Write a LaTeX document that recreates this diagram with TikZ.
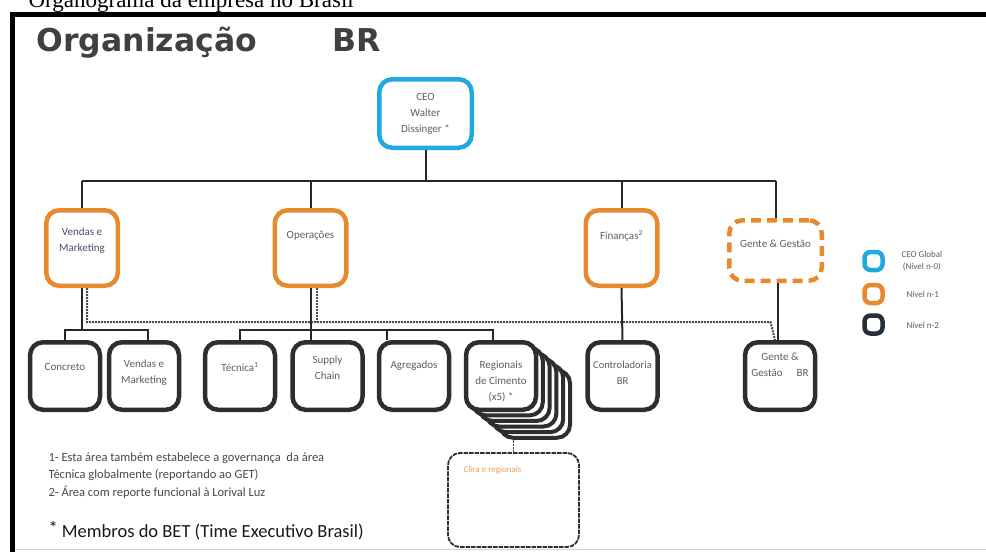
\documentclass[tikz,border=0pt]{standalone}
\usepackage{fontspec}
\setmainfont{Carlito}
\newfontfamily\titulofonte{DejaVu Sans}
\newfontfamily\legendafonte{Liberation Serif}
\usepackage{tikz}
\definecolor{orgCiano}{HTML}{22A9DF}
\definecolor{orgLaranja}{HTML}{E8892E}
\definecolor{orgEscuro}{HTML}{2E2E2E}
\definecolor{orgTexto}{HTML}{5E5E5E}
\definecolor{orgAzulTexto}{HTML}{46506A}
\definecolor{orgLegEscuro}{HTML}{27303A}

\begin{document}
\begin{tikzpicture}[x=1pt, y=-1pt,
    caixa/.style={rounded corners=13pt, line width=4.5pt, inner sep=0pt, fill=white},
    nivelzero/.style={caixa, draw=orgCiano, minimum width=92.5pt, minimum height=68.5pt},
    nivelum/.style={caixa, draw=orgLaranja, minimum width=71.5pt, minimum height=75.5pt},
    niveldois/.style={caixa, draw=orgEscuro, minimum width=70pt, minimum height=67.5pt},
    rotulo/.style={font=\fontsize{11}{16}\selectfont, text=orgTexto, align=center},
    conector/.style={line width=2pt, black!85},
    pontilhado/.style={line width=2pt, densely dotted, black!70},
    quadrado/.style={rounded corners=6pt, line width=4.5pt, minimum size=18pt, inner sep=0pt},
    nota/.style={anchor=base west, font=\fontsize{12.5}{14}\selectfont, text=black!72}]
    \useasboundingbox (0,0) rectangle (986,552);
    \clip (0,0) rectangle (986,552);
    \node[anchor=base west, font=\legendafonte\fontsize{23}{23}\selectfont] (legtopo) at (25,7) {Organograma da empresa no Brasil};
    \draw[line width=5pt] (986,14.5) -- (12.5,14.5) -- (12.5,552);
    \draw[gray!35, line width=0.8pt] (15,549) -- (986,549);
    \node[anchor=base west, font=\titulofonte\bfseries\fontsize{31.5}{32}\selectfont, text=black!75] (titulo) at (33,51) {Organização};
    \node[anchor=base west, font=\titulofonte\bfseries\fontsize{31.5}{32}\selectfont, text=black!75] (titulobr) at (329,51) {BR};

    \coordinate (barra) at (0,181);
    \coordinate (barrab) at (0,330);
    \coordinate (barrap) at (0,322);

    \node[nivelzero] (ceo) at (425.5,113.5) {};
    \node[rotulo] (ceot) at (ceo.center) {CEO\\Walter\\Dissinger *};

    \node[nivelum] (vendas) at (82,248) {};
    \node[rotulo, text=orgAzulTexto] (vendast) at ([yshift=7pt]vendas.center) {Vendas e\\Marketing};
    \node[nivelum] (operacoes) at (310.5,248) {};
    \node[rotulo] (operacoest) at ([yshift=12pt]operacoes.center) {Operações};
    \node[nivelum] (financas) at (621.5,248) {};
    \node[rotulo] (financast) at ([yshift=12pt]financas.center) {Finanças\textsuperscript{2}};
    \node[caixa, draw=orgLaranja, dash pattern=on 10pt off 6pt, minimum width=92.5pt, minimum height=60.5pt] (gente) at (775.5,250.5) {};
    \node[rotulo] (gentet) at ([yshift=7pt]gente.center) {Gente \& Gestão};

    \draw[conector] (ceo.south) -- (ceo.south |- barra);
    \draw[conector] (vendas.north |- barra) -- (gente.north |- barra);
    \draw[conector] (vendas.north) -- (vendas.north |- barra);
    \draw[conector] (operacoes.north) -- (operacoes.north |- barra);
    \draw[conector] (financas.north) -- (financas.north |- barra);
    \draw[conector] (gente.north) -- (gente.north |- barra);

    \node[niveldois] (concreto) at (65,376) {};
    \node[rotulo] (concretot) at ([yshift=9pt]concreto.center) {Concreto};
    \node[niveldois] (vendmk) at (144,376) {};
    \node[rotulo] (vendmkt) at ([yshift=3pt]vendmk.center) {Vendas e\\Marketing};
    \node[niveldois] (tecnica) at (240,376) {};
    \node[rotulo] (tecnicat) at ([yshift=9pt]tecnica.center) {Técnica\textsuperscript{1}};
    \node[niveldois] (supply) at (327.5,376) {};
    \node[rotulo] (supplyt) at ([yshift=8pt]supply.center) {Supply\\Chain};
    \node[niveldois] (agreg) at (414,376) {};
    \node[rotulo] (agregt) at ([yshift=10pt]agreg.center) {Agregados};
    \foreach \k in {5,...,1}
        \node[niveldois, line width=4pt] (reg\k) at (501+6.8*\k,376+5.6*\k) {};
    \node[niveldois] (regionais) at (501,376) {};
    \node[rotulo] (regionaist) at ([yshift=-5pt]regionais.center) {Regionais\\de Cimento\\(x5) *};
    \node[niveldois] (control) at (622.5,376) {};
    \node[rotulo, font=\fontsize{10.5}{16}\selectfont] (controlt) at ([yshift=3pt]control.center) {Controladoria\\BR};
    \node[niveldois] (gentebr) at (780,376) {};
    \node[rotulo] (gentebrt) at ([yshift=11pt]gentebr.center) {Gente \&\\Gestão\hspace{14pt}BR};

    \draw[pontilhado] ([xshift=5pt]vendas.south) -- ([xshift=5pt]vendas.south |- barrap) -- ([xshift=-5pt]gente.south |- barrap) -- ([xshift=-5pt]gentebr.north);
    \draw[pontilhado] ([xshift=6pt]operacoes.south) -- ([xshift=6pt]operacoes.south |- barrap);
    \draw[conector] (vendas.south) -- (vendas.south |- barrab);
    \draw[conector] (concreto.north) -- (concreto.north |- barrab) -- ([xshift=4pt]vendmk.north |- barrab) -- ([xshift=4pt]vendmk.north);
    \draw[conector] (operacoes.south) -- (operacoes.south |- supply.north);
    \draw[conector] (tecnica.north) -- (tecnica.north |- barrab) -- ([xshift=-8pt]regionais.north |- barrab) -- ([xshift=-8pt]regionais.north);
    \draw[conector] ([xshift=-27pt]agreg.north) -- ([xshift=-27pt]agreg.north |- barrab);
    \draw[conector] (financas.south) -- (control.north);
    \draw[conector] ([xshift=2pt]gente.south) -- ([xshift=2pt]gente.south |- gentebr.north);

    \node[caixa, draw=orgEscuro, densely dotted, line width=1.8pt, rounded corners=12pt, minimum width=131pt, minimum height=94pt] (clima) at (513.5,500) {};
    \node[anchor=west, font=\fontsize{9}{10}\selectfont, text=orgLaranja!80] (climat) at (460,470) {Clira e regionais};
    \draw[pontilhado, line width=1.4pt] (clima.north) -- (clima.north |- reg5.south);

    \node[quadrado, draw=orgCiano] (legzero) at (873.5,261) {};
    \node[rotulo, anchor=west, font=\fontsize{9}{12}\selectfont] (legzerot) at (898,261) {CEO Global\\(Nível n-0)};
    \node[quadrado, draw=orgLaranja] (legum) at (873.5,294) {};
    \node[rotulo, anchor=west, font=\fontsize{9}{12}\selectfont] (legumt) at (903,294) {Nível n-1};
    \node[quadrado, draw=orgLegEscuro] (legdois) at (873.5,324.5) {};
    \node[rotulo, anchor=west, font=\fontsize{9}{12}\selectfont] (legdoist) at (903,325) {Nível n-2};

    \node[nota] (nota1) at (45,461) {1- Esta área também estabelece a governança\ \ da área};
    \node[nota] (nota2) at (45,478) {Técnica globalmente (reportando ao GET)};
    \node[nota] (nota3) at (45,496) {2- Área com reporte funcional à Lorival Luz};
    \node[nota, font=\fontsize{18.5}{20}\selectfont, text=black!90] (nota4) at (45,537) {\raisebox{3pt}{*} Membros do BET (Time Executivo Brasil)};
\end{tikzpicture}
\end{document}
